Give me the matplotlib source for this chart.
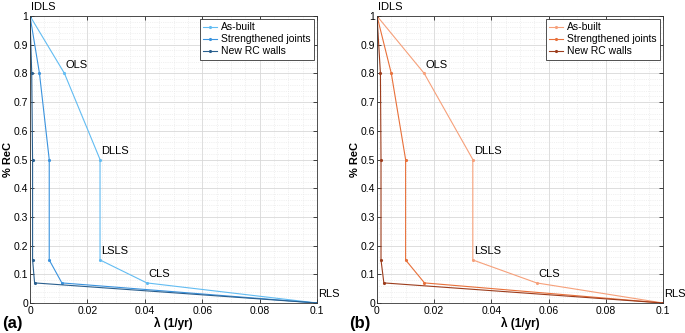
import matplotlib
matplotlib.use("Agg")
import matplotlib.pyplot as plt
from matplotlib.ticker import MultipleLocator

plt.rcParams['font.family'] = ['Liberation Sans', 'DejaVu Sans']

recovery = [1.0, 0.8, 0.5, 0.15, 0.07, 0.0]
state_labels = ["IDLS", "OLS", "DLLS", "LSLS", "CLS", "RLS"]
series_names = ["As-built", "Strengthened joints", "New RC walls"]

lam_a_asbuilt = [0.0, 0.012, 0.0244, 0.0244, 0.0407, 0.1]
lam_a_joints = [0.0, 0.0033, 0.0067, 0.0067, 0.0111, 0.1]
lam_a_walls = [0.0, 0.0006, 0.0009, 0.0009, 0.0016, 0.1]

lam_b_asbuilt = [0.0, 0.0165, 0.0335, 0.0335, 0.0558, 0.1]
lam_b_joints = [0.0, 0.005, 0.010, 0.010, 0.0166, 0.1]
lam_b_walls = [0.0, 0.0012, 0.0014, 0.0014, 0.0024, 0.1]

colors_a = ["#62bcf2", "#3a93de", "#2a5f8e"]
colors_b = ["#f6a07a", "#e8703a", "#9c3c1c"]

fig = plt.figure(figsize=(6.85, 3.33), dpi=100)
W, H = 685, 333
ax_a = fig.add_axes([30/W, 1-303/H, 287/W, 287/H])
ax_b = fig.add_axes([377/W, 1-303/H, 286/W, 287/H])

def draw(ax, lams, colors, tag):
    for lam, c, name in zip(lams, colors, series_names):
        ax.plot(lam, recovery, color=c, lw=0.8, marker='.', ms=2.5, label=name)
    for x, y, s in zip(lams[0], recovery, state_labels):
        ax.annotate(s, (x, y), xytext=(1, 4), textcoords='offset points',
                    fontsize=8, ha='left', va='baseline', annotation_clip=False)
    ax.set_xlim(0, 0.1)
    ax.set_ylim(0, 1)
    ax.xaxis.set_minor_locator(MultipleLocator(0.005))
    ax.yaxis.set_minor_locator(MultipleLocator(0.02))
    ax.set_xticks([0, 0.02, 0.04, 0.06, 0.08, 0.1])
    ax.set_xticklabels(["0", "0.02", "0.04", "0.06", "0.08", "0.1"])
    ax.set_yticks([i/10 for i in range(11)])
    ax.set_yticklabels(["0"] + [f"0.{i}" for i in range(1, 10)] + ["1"])
    ax.grid(which='major', color='#d8d8d8', lw=0.6, ls='-')
    ax.grid(which='minor', color='#e4e4e4', lw=0.5, ls=':')
    ax.tick_params(which='both', direction='in', top=True, right=True,
                   labelsize=7.5, width=0.5, pad=2)
    ax.tick_params(axis='y', pad=1.5)
    ax.tick_params(which='major', length=3)
    ax.tick_params(which='minor', length=0)
    for sp in ax.spines.values():
        sp.set_color('#333333')
        sp.set_linewidth(0.6)
    ax.set_xlabel("λ (1/yr)", fontsize=8.5, fontweight='bold', labelpad=1)
    ylab = ax.set_ylabel("% ReC", fontsize=8, fontweight='bold', labelpad=0)
    ylab.set_verticalalignment('center')
    ax.yaxis.set_label_coords(-0.077, 0.5)
    leg = ax.legend(loc='upper right', fontsize=7.5, frameon=True, fancybox=False,
                    edgecolor='#333333', framealpha=1, handlelength=1.3,
                    borderpad=0.3, labelspacing=0.2, handletextpad=0.4,
                    borderaxespad=0.3)
    leg.get_frame().set_linewidth(0.6)
    ax.text(-0.098, -0.072, tag, transform=ax.transAxes, fontsize=12,
            fontweight='bold', ha='left', va='center')

draw(ax_a, [lam_a_asbuilt, lam_a_joints, lam_a_walls], colors_a, "(a)")
draw(ax_b, [lam_b_asbuilt, lam_b_joints, lam_b_walls], colors_b, "(b)")

fig.savefig("out.png", dpi=100)
